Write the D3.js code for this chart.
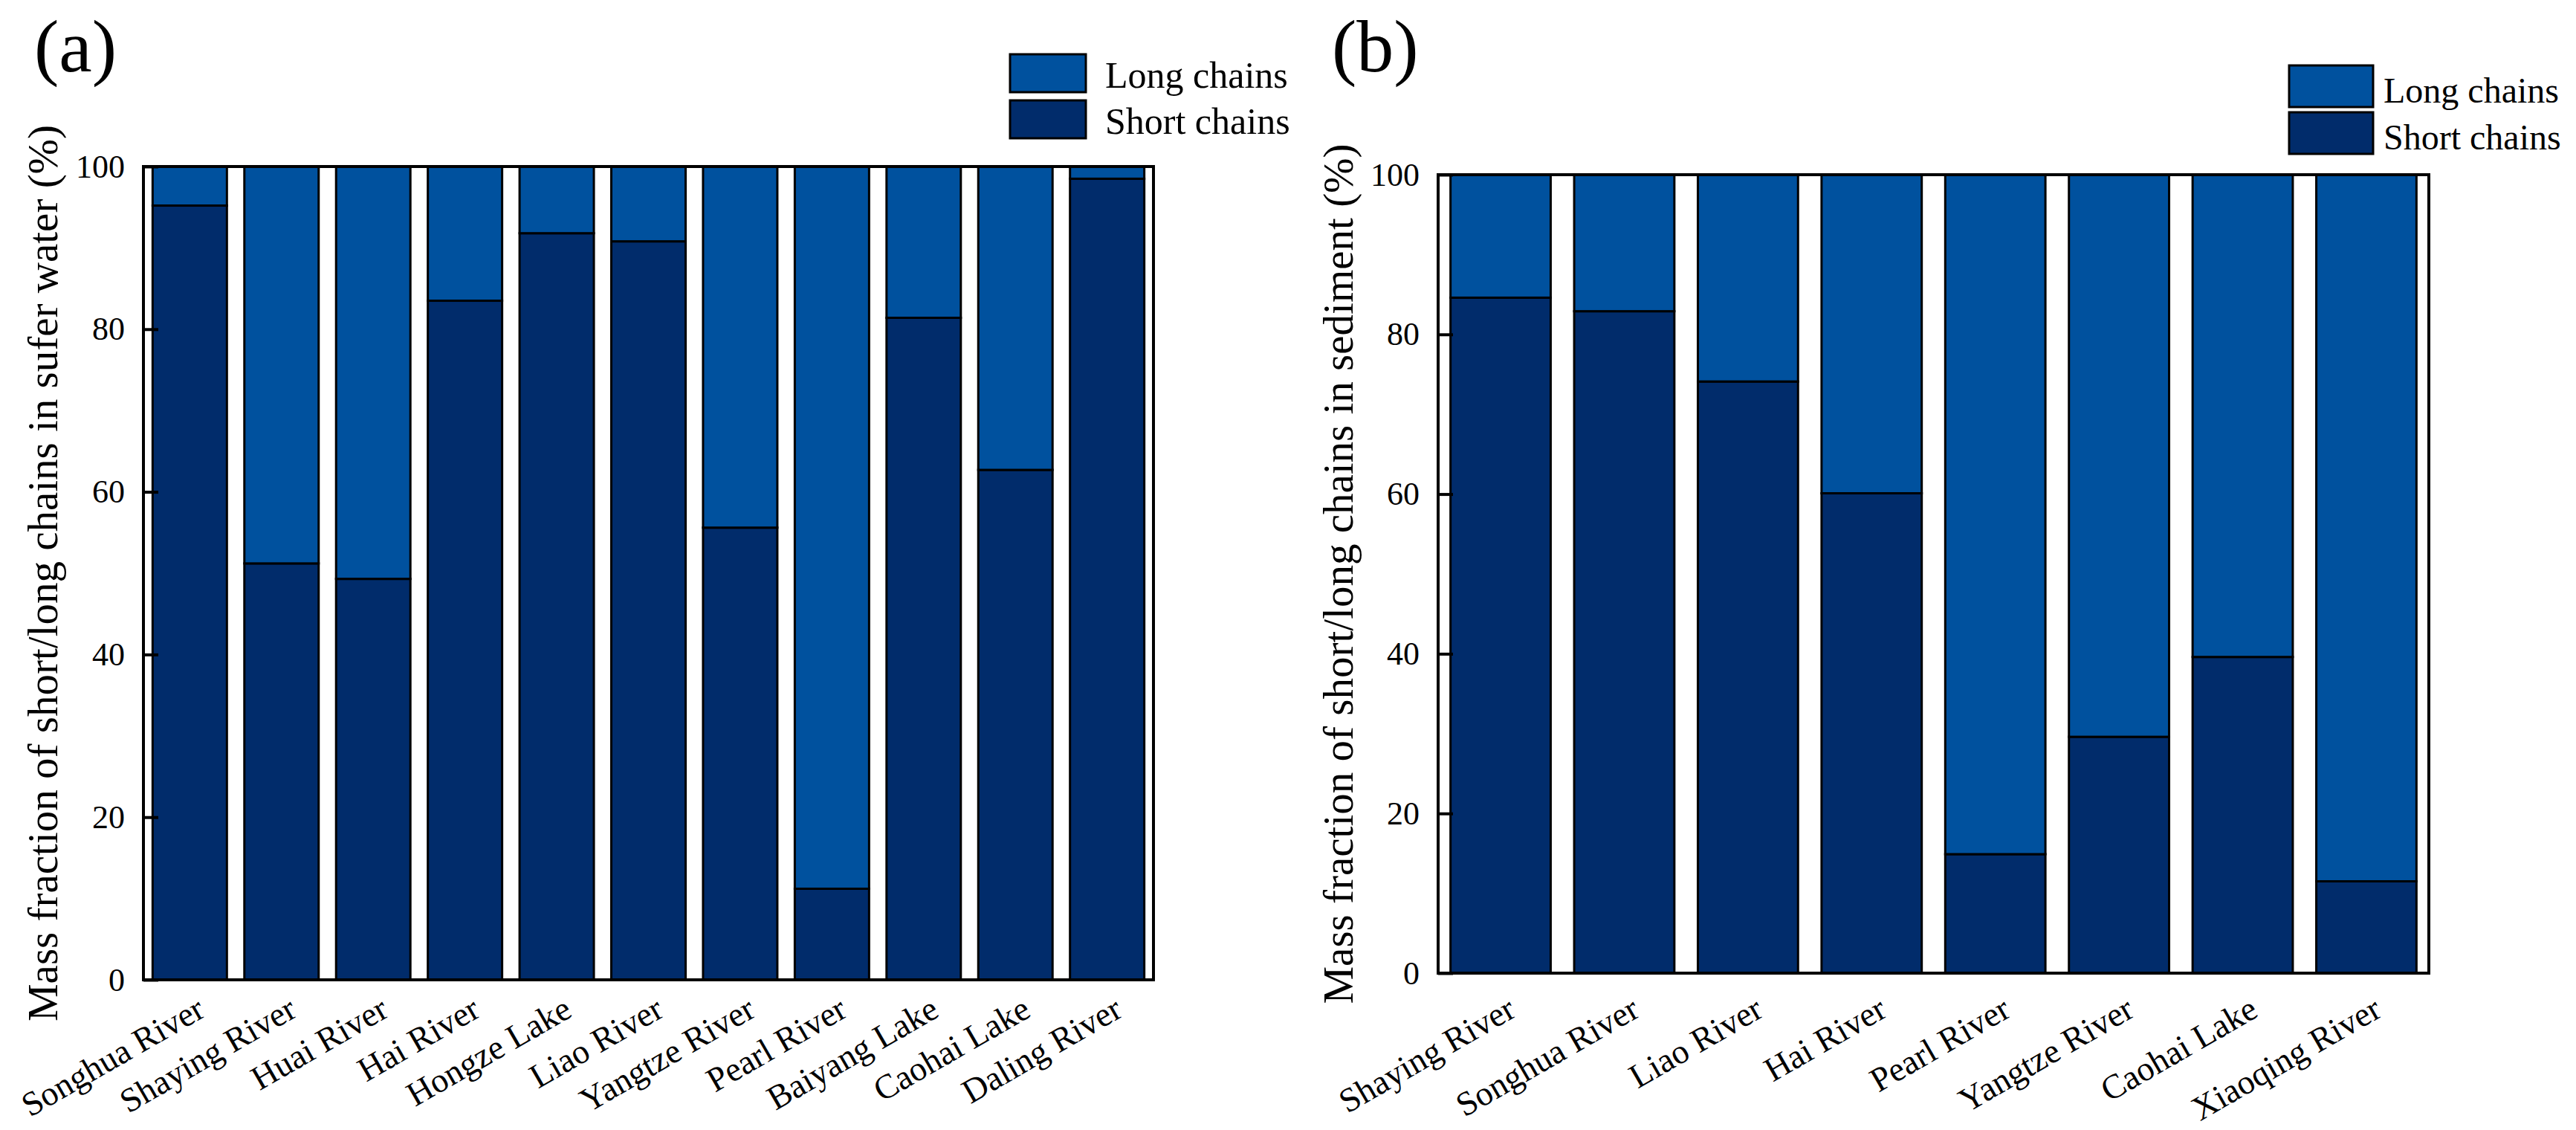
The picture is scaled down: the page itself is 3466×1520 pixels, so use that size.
<!DOCTYPE html>
<html>
<head>
<meta charset="utf-8">
<script src="https://cdn.jsdelivr.net/npm/d3@7"></script>
<style>
    body { margin: 0; background: #ffffff; }
    text { font-family: "Liberation Serif", "Times New Roman", serif; fill: #000000; }
</style>
</head>
<body>
<svg id="chain_plot" width="3466" height="1520"></svg>
<script>
// surface water sites (panel a)
const water_sites = ["Songhua River", "Shaying River", "Huai River", "Hai River", "Hongze Lake",
                     "Liao River", "Yangtze River", "Pearl River", "Baiyang Lake", "Caohai Lake", "Daling River"];
const water_short = [95.2, 51.2, 49.3, 83.5, 91.8, 90.8, 55.6, 11.2, 81.4, 62.7, 98.5];

// sediment sites (panel b)
const sediment_sites = ["Shaying River", "Songhua River", "Liao River", "Hai River",
                        "Pearl River", "Yangtze River", "Caohai Lake", "Xiaoqing River"];
const sediment_short = [84.6, 82.9, 74.1, 60.1, 14.9, 29.6, 39.6, 11.5];

const y_ticks       = [0, 20, 40, 60, 80, 100];
const legend_labels = ["Long chains", "Short chains"];

const color_long  = "#00519e";
const color_short = "#012c6b";

var svg = d3.select("#chain_plot");

function drawPanel(cfg)
{
    var sites  = cfg.sites;
    var shorts = cfg.shorts;

    var innerWidth  = cfg.right  - cfg.left;
    var innerHeight = cfg.bottom - cfg.top;

    // the following code is used to stack short + long chains
    var rows = sites.map((s, i) => ({ site: s, short: shorts[i], long: 100 - shorts[i] }));

    const chart = svg.append("g")
        .attr("transform", `translate(${cfg.left},${cfg.top})`);

    const x = d3.scaleBand()
        .domain(sites)
        .range([0, innerWidth])
        .paddingInner(0.19)
        .paddingOuter(0.1);

    const y = d3.scaleLinear()
        .domain([0, 100])
        .range([innerHeight, 0]);

    // bars: short chains at the bottom, long chains on top
    chart.selectAll(".bar_short").data(rows)
        .enter().append("rect")
        .attr("class",        "bar_short")
        .attr("x",            d => x(d.site))
        .attr("width",        x.bandwidth())
        .attr("y",            d => y(d.short))
        .attr("height",       d => innerHeight - y(d.short))
        .attr("fill",         color_short)
        .attr("stroke",       "#000")
        .attr("stroke-width", 3);

    chart.selectAll(".bar_long").data(rows)
        .enter().append("rect")
        .attr("class",        "bar_long")
        .attr("x",            d => x(d.site))
        .attr("width",        x.bandwidth())
        .attr("y",            d => y(100))
        .attr("height",       d => y(d.short) - y(100))
        .attr("fill",         color_long)
        .attr("stroke",       "#000")
        .attr("stroke-width", 3);

    // y axis, ticks pointing inward
    const axisY = d3.axisLeft(y)
        .tickValues(y_ticks)
        .tickSizeInner(-20)
        .tickSizeOuter(0)
        .tickPadding(25);

    const gy = chart.append("g").call(axisY);
    gy.select(".domain").remove();
    gy.selectAll(".tick line").attr("stroke", "#000").attr("stroke-width", 4);
    gy.selectAll(".tick text")
        .style("font-family", "Liberation Serif")
        .style("font-size",   "44px")
        .attr("fill",         "#000");

    // frame
    chart.append("rect")
        .attr("x",            0)
        .attr("y",            0)
        .attr("width",        innerWidth)
        .attr("height",       innerHeight)
        .attr("fill",         "none")
        .attr("stroke",       "#000")
        .attr("stroke-width", 4);

    // x labels, rotated
    chart.selectAll(".x_label").data(sites)
        .enter().append("text")
        .attr("class",       "x_label")
        .attr("text-anchor", "end")
        .attr("font-size",   46)
        .attr("transform",   d => `translate(${x(d) + x.bandwidth()/2 + 23},${innerHeight + cfg.labelDrop}) rotate(-30)`)
        .text(d => d);

    // y title
    svg.append("text")
        .attr("text-anchor", "middle")
        .attr("font-size",   57)
        .attr("transform",   `translate(${cfg.titleX},${cfg.top + innerHeight/2}) rotate(-90)`)
        .text(cfg.yTitle);

    // panel letter
    svg.append("text")
        .attr("x",         cfg.letterX)
        .attr("y",         96)
        .attr("font-size", 100)
        .text(cfg.letter);

    // legend
    var lg = svg.append("g");
    legend_labels.forEach((label, i) =>
    {
        lg.append("rect")
            .attr("x",            cfg.legX)
            .attr("y",            cfg.legY + i * cfg.legStep)
            .attr("width",        cfg.legW)
            .attr("height",       cfg.legH)
            .attr("fill",         i === 0 ? color_long : color_short)
            .attr("stroke",       "#000")
            .attr("stroke-width", 3);

        lg.append("text")
            .attr("x",         cfg.legX + cfg.legW + cfg.legGap)
            .attr("y",         cfg.legY + i * cfg.legStep + cfg.legH - 6)
            .attr("font-size", cfg.legFont)
            .text(label);
    });
}

drawPanel({ sites: water_sites, shorts: water_short,
            left: 193, right: 1552, top: 224, bottom: 1318, labelDrop: 48,
            titleX: 77, yTitle: "Mass fraction of short/long chains in sufer water (%)",
            letter: "(a)", letterX: 46,
            legX: 1359, legY: 73, legW: 102, legH: 51, legStep: 62, legGap: 26, legFont: 50 });

drawPanel({ sites: sediment_sites, shorts: sediment_short,
            left: 1935, right: 3268, top: 235, bottom: 1309, labelDrop: 57,
            titleX: 1820, yTitle: "Mass fraction of short/long chains in sediment (%)",
            letter: "(b)", letterX: 1792,
            legX: 3080, legY: 88, legW: 113, legH: 56, legStep: 63, legGap: 14, legFont: 48 });
</script>
</body>
</html>
